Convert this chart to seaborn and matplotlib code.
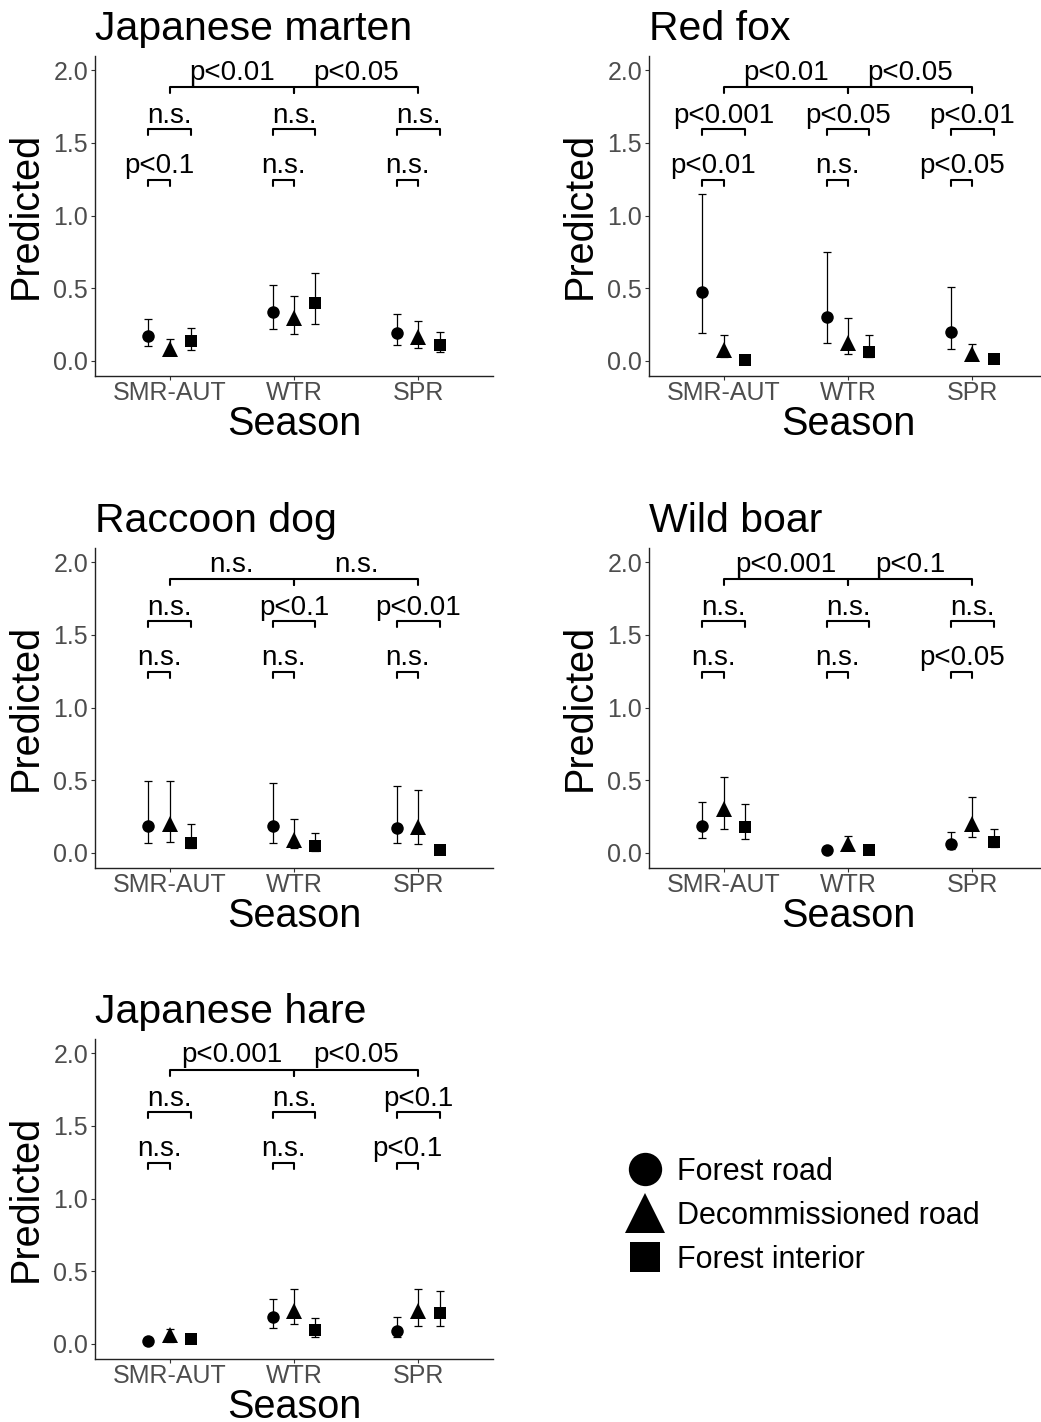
import matplotlib
matplotlib.use("Agg")
import matplotlib.pyplot as plt
from matplotlib.lines import Line2D
from matplotlib.ticker import FormatStrFormatter
import numpy as np
import pandas as pd
import seaborn as sns

sns.set_theme(style="ticks")
plt.rcParams["font.family"] = ["Liberation Sans", "DejaVu Sans"]

SEASONS = ["SMR-AUT", "WTR", "SPR"]
HABITATS = ["Forest road", "Decommissioned road", "Forest interior"]
MARKERS = ["o", "^", "s"]

# rows = habitat (road, decommissioned, interior), cols = season
marten_pred = [[0.174, 0.335, 0.190], [0.085, 0.298, 0.163], [0.137, 0.396, 0.112]]
marten_lo = [[0.105, 0.218, 0.112], [0.046, 0.186, 0.092], [0.076, 0.256, 0.064]]
marten_hi = [[0.287, 0.522, 0.323], [0.149, 0.449, 0.275], [0.229, 0.603, 0.202]]

fox_pred = [[0.472, 0.305, 0.202], [0.076, 0.121, 0.048], [0.007, 0.060, 0.012]]
fox_lo = [[0.195, 0.126, 0.080], [0.025, 0.046, 0.020], [0.002, 0.030, 0.004]]
fox_hi = [[1.148, 0.747, 0.506], [0.177, 0.293, 0.117], [0.014, 0.179, 0.020]]

raccoon_pred = [[0.188, 0.186, 0.170], [0.199, 0.089, 0.177], [0.067, 0.048, 0.018]]
raccoon_lo = [[0.071, 0.069, 0.066], [0.076, 0.032, 0.062], [0.032, 0.014, 0.006]]
raccoon_hi = [[0.495, 0.483, 0.460], [0.497, 0.231, 0.435], [0.197, 0.140, 0.030]]

boar_pred = [[0.188, 0.021, 0.062], [0.300, 0.062, 0.199], [0.181, 0.021, 0.078]]
boar_lo = [[0.105, 0.008, 0.025], [0.165, 0.032, 0.108], [0.096, 0.010, 0.039]]
boar_hi = [[0.350, 0.040, 0.142], [0.525, 0.117, 0.383], [0.337, 0.030, 0.165]]

hare_pred = [[0.022, 0.183, 0.092], [0.062, 0.227, 0.227], [0.037, 0.096, 0.211]]
hare_lo = [[0.005, 0.108, 0.046], [0.016, 0.135, 0.126], [0.008, 0.050, 0.126]]
hare_hi = [[0.040, 0.309, 0.188], [0.103, 0.376, 0.378], [0.065, 0.176, 0.364]]

# p-value labels: between seasons, road vs interior, road vs decommissioned
marten_top = ["p<0.01", "p<0.05"]
marten_mid = ["n.s.", "n.s.", "n.s."]
marten_low = ["p<0.1", "n.s.", "n.s."]

fox_top = ["p<0.01", "p<0.05"]
fox_mid = ["p<0.001", "p<0.05", "p<0.01"]
fox_low = ["p<0.01", "n.s.", "p<0.05"]

raccoon_top = ["n.s.", "n.s."]
raccoon_mid = ["n.s.", "p<0.1", "p<0.01"]
raccoon_low = ["n.s.", "n.s.", "n.s."]

boar_top = ["p<0.001", "p<0.1"]
boar_mid = ["n.s.", "n.s.", "n.s."]
boar_low = ["n.s.", "n.s.", "p<0.05"]

hare_top = ["p<0.001", "p<0.05"]
hare_mid = ["n.s.", "n.s.", "p<0.1"]
hare_low = ["n.s.", "n.s.", "p<0.1"]

MARKER_SIZES = [9, 11.5, 8.5]
LEGEND_SIZES = [24, 29, 21.5]
TOP_Y, MID_Y, LOW_Y = 1.885, 1.593, 1.245
TICK = 0.04
BIG = 28.5


def bracket(ax, x0, x1, y, label, text_y):
    ax.plot([x0, x0, x1, x1], [y - TICK, y, y, y - TICK], color="black", lw=1.5)
    ax.text((x0 + x1) / 2, text_y, label, ha="center", va="baseline",
            fontsize=20, color="black")


def draw_panel(ax, title, pred, lo, hi, top_lab, mid_lab, low_lab):
    df = pd.DataFrame({
        "Season": np.tile(SEASONS, 3),
        "Habitat": np.repeat(HABITATS, 3),
        "Predicted": np.ravel(pred),
        "lo": np.ravel(lo),
        "hi": np.ravel(hi),
    })

    sns.pointplot(
        data=df, x="Season", y="Predicted", hue="Habitat",
        order=SEASONS, hue_order=HABITATS,
        markers=MARKERS, linestyles="none", dodge=0.34,
        errorbar=None, palette=["black"] * 3, legend=False, ax=ax
    )

    lines = ax.lines[:3]
    xpos = []
    for h, line, size in zip(HABITATS, lines, MARKER_SIZES):
        line.set_markersize(size)
        line.set_markeredgewidth(0)
        line.set_zorder(3)
        sub = df[df["Habitat"] == h]
        x = np.asarray(line.get_xdata(), dtype=float)
        xpos.append(x)
        ax.errorbar(
            x, sub["Predicted"],
            yerr=[sub["Predicted"] - sub["lo"], sub["hi"] - sub["Predicted"]],
            fmt="none", ecolor="black", elinewidth=0.9,
            capsize=3, capthick=0.9, zorder=2
        )

    cx, tx, sx = xpos
    for i in range(3):
        bracket(ax, cx[i], tx[i], LOW_Y, low_lab[i], LOW_Y + 0.045)
        bracket(ax, cx[i], sx[i], MID_Y, mid_lab[i], MID_Y + 0.041)
    for j in range(2):
        bracket(ax, j, j + 1, TOP_Y, top_lab[j], TOP_Y + 0.05)

    ax.set_xlim(-0.6, 2.6)
    ax.set_ylim(-0.1, 2.1)
    ax.set_yticks([0, 0.5, 1.0, 1.5, 2.0])
    ax.yaxis.set_major_formatter(FormatStrFormatter("%.1f"))
    ax.set_xlabel("Season", fontsize=BIG, color="black", labelpad=0)
    ax.set_ylabel("Predicted", fontsize=BIG, color="black", labelpad=6)
    ax.set_title(title, loc="left", fontsize=29.5, pad=11.5, color="black")
    ax.tick_params(labelsize=18, labelcolor="#4D4D4D", color="#333333",
                   length=3, width=0.8)
    ax.tick_params(axis="x", pad=0.8)
    ax.tick_params(axis="y", pad=2)
    sns.despine(ax=ax)
    for s in ["left", "bottom"]:
        ax.spines[s].set_color("#222222")
        ax.spines[s].set_linewidth(1.0)


fig = plt.figure(figsize=(10.41, 14.22), dpi=100)

W, H = 1041, 1422
col_left = [95, 649]
row_bottom = [375.5, 867.5, 1358.5]
aw, ah = 398, 320

panels = [
    ("Japanese marten", marten_pred, marten_lo, marten_hi, marten_top, marten_mid, marten_low),
    ("Red fox", fox_pred, fox_lo, fox_hi, fox_top, fox_mid, fox_low),
    ("Raccoon dog", raccoon_pred, raccoon_lo, raccoon_hi, raccoon_top, raccoon_mid, raccoon_low),
    ("Wild boar", boar_pred, boar_lo, boar_hi, boar_top, boar_mid, boar_low),
    ("Japanese hare", hare_pred, hare_lo, hare_hi, hare_top, hare_mid, hare_low),
]

for k, panel in enumerate(panels):
    r, c = divmod(k, 2)
    ax = fig.add_axes([col_left[c] / W, 1 - row_bottom[r] / H, aw / W, ah / H])
    draw_panel(ax, *panel)

handles = [
    Line2D([], [], marker=m, linestyle="none", color="black",
           markersize=s, markeredgewidth=0)
    for m, s in zip(MARKERS, LEGEND_SIZES)
]
fig.legend(
    handles, HABITATS, loc="center left", bbox_to_anchor=(0.605, 0.145),
    frameon=False, fontsize=22, handlelength=1.0, handletextpad=0.55,
    labelspacing=0.45, borderpad=0, borderaxespad=0, labelcolor="black"
)

fig.savefig("out.png", dpi=100)
